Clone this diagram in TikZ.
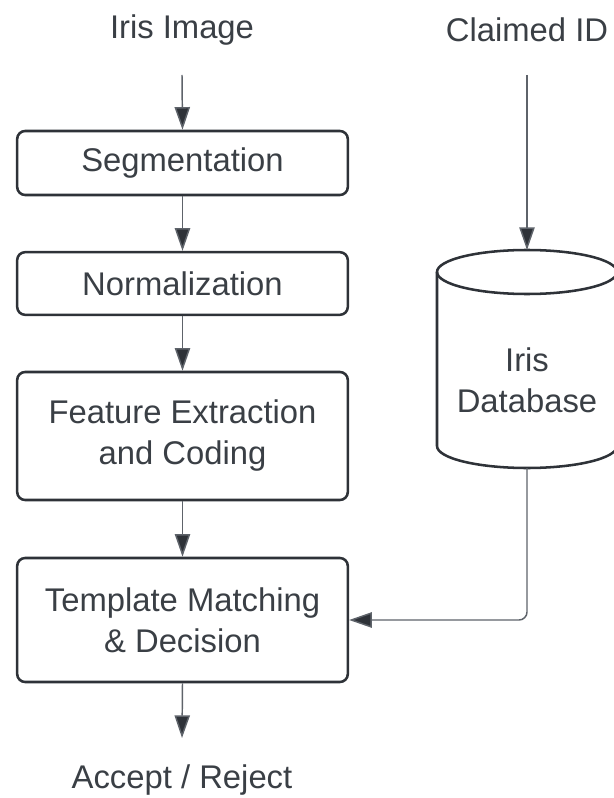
\documentclass[tikz,border=0pt]{standalone}
\usepackage{fontspec}
\setmainfont{Liberation Sans}
\usetikzlibrary{arrows.meta}
\definecolor{ink}{HTML}{2E3238}
\definecolor{txt}{HTML}{3A3F45}
\definecolor{wire}{HTML}{5E636A}
\begin{document}
\begin{tikzpicture}[x=0.75pt,y=-0.75pt,
  every node/.style={font=\fontsize{24.6}{30.75}\selectfont, text=txt, align=center},
  procbox/.style={draw=ink, line width=1.9pt, rounded corners=6pt, minimum width=248pt, inner sep=0pt},
  conn/.style={draw=wire, line width=1.1pt, -{Triangle[length=17pt,width=11.5pt,fill=ink]}},
  dbline/.style={draw=ink, line width=1.9pt}]
\useasboundingbox (0,0) rectangle (613,798);
\node (in) at (182,30) {Iris Image};
\node (cid) at (527,30) {Claimed ID};
\coordinate (inS) at (182,75);
\coordinate (cidS) at (527,75);
\node[procbox, minimum height=48pt] (seg) at (182.5,163) {Segmentation};
\node[procbox, minimum height=47pt] (norm) at (182.5,283.5) {Normalization};
\node[procbox, minimum height=96pt] (feat) at (182.5,436) {Feature Extraction\\and Coding};
\node[procbox, minimum height=93pt] (tm) at (182.5,620) {Template Matching\\\& Decision};
\node (out) at (182,780) {Accept / Reject};
\coordinate (outE) at (182,738);
% database cylinder
\draw[dbline, fill=white] (437,272) -- (437,446) arc[start angle=180, end angle=360, x radius=90, y radius=-22] -- (617,272);
\draw[dbline] (527,272) ellipse[x radius=90, y radius=22];
\node (db) at (527,380) {Iris\\Database};
\coordinate (dbtop) at (527,250);
\coordinate (dbbot) at (527,468);
% connectors
\draw[conn] (inS) -- (seg.north);
\draw[conn] (seg.south) -- (norm.north);
\draw[conn] (norm.south) -- (feat.north);
\draw[conn] (feat.south) -- (tm.north);
\draw[conn] (tm.south) -- (outE);
\draw[conn] (cidS) -- (dbtop);
\draw[conn, rounded corners=6pt] (dbbot) |- (tm.east);
\end{tikzpicture}
\end{document}
